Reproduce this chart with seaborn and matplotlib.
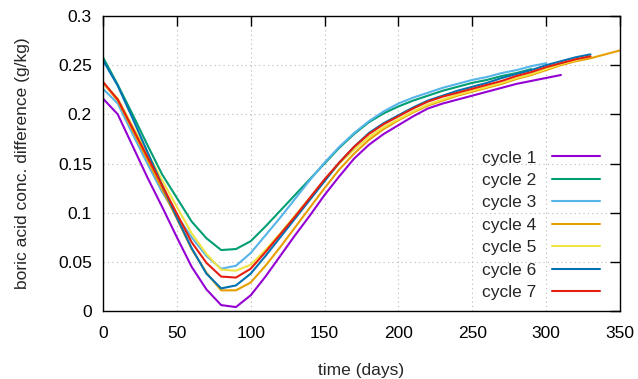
import matplotlib
matplotlib.use("Agg")
import matplotlib.pyplot as plt
import seaborn as sns
import pandas as pd
import numpy as np

# ---- data ----
days = [0, 10, 20, 30, 40, 50, 60, 70, 80, 90, 100, 110, 120, 130, 140, 150, 160, 170,
        180, 190, 200, 210, 220, 230, 240, 250, 260, 270, 280, 290, 300, 310, 320, 330, 340, 350]

cycle1 = [0.216, 0.200, 0.168, 0.136, 0.106, 0.075, 0.045, 0.022, 0.006, 0.004, 0.016, 0.035,
          0.056, 0.077, 0.097, 0.118, 0.137, 0.155, 0.169, 0.180, 0.189, 0.198, 0.206, 0.211,
          0.215, 0.219, 0.223, 0.227, 0.231, 0.234, 0.237, 0.240]
cycle2 = [0.258, 0.230, 0.200, 0.169, 0.139, 0.115, 0.091, 0.074, 0.062, 0.063, 0.071, 0.086,
          0.102, 0.118, 0.134, 0.150, 0.166, 0.180, 0.192, 0.201, 0.208, 0.214, 0.219, 0.224,
          0.228, 0.232, 0.235, 0.239, 0.242, 0.246]
cycle3 = [0.226, 0.211, 0.180, 0.150, 0.121, 0.097, 0.075, 0.056, 0.043, 0.046, 0.059, 0.077,
          0.095, 0.114, 0.133, 0.151, 0.167, 0.181, 0.193, 0.203, 0.211, 0.217, 0.222, 0.227,
          0.231, 0.235, 0.238, 0.242, 0.245, 0.249, 0.252]
cycle4 = [0.232, 0.214, 0.184, 0.154, 0.124, 0.094, 0.063, 0.039, 0.021, 0.021, 0.029, 0.046,
          0.065, 0.085, 0.105, 0.125, 0.144, 0.160, 0.174, 0.185, 0.194, 0.202, 0.209, 0.214,
          0.219, 0.223, 0.227, 0.231, 0.236, 0.240, 0.245, 0.250, 0.254, 0.257, 0.261, 0.265]
cycle5 = [0.232, 0.216, 0.188, 0.161, 0.133, 0.106, 0.079, 0.058, 0.042, 0.041, 0.047, 0.062,
          0.079, 0.097, 0.115, 0.133, 0.150, 0.164, 0.177, 0.187, 0.195, 0.203, 0.210, 0.215,
          0.220, 0.224, 0.228, 0.232, 0.237, 0.241, 0.246, 0.251, 0.255, 0.259]
cycle6 = [0.255, 0.229, 0.196, 0.162, 0.128, 0.095, 0.064, 0.038, 0.023, 0.026, 0.038, 0.056,
          0.075, 0.094, 0.113, 0.132, 0.151, 0.167, 0.181, 0.191, 0.199, 0.207, 0.214, 0.219,
          0.224, 0.228, 0.232, 0.237, 0.241, 0.245, 0.250, 0.254, 0.258, 0.261]
cycle7 = [0.233, 0.215, 0.186, 0.157, 0.128, 0.099, 0.070, 0.049, 0.035, 0.034, 0.043, 0.060,
          0.078, 0.096, 0.115, 0.134, 0.151, 0.167, 0.180, 0.190, 0.198, 0.206, 0.213, 0.218,
          0.222, 0.226, 0.230, 0.234, 0.239, 0.243, 0.248, 0.252, 0.256, 0.259]

labels = ["cycle 1", "cycle 2", "cycle 3", "cycle 4", "cycle 5", "cycle 6", "cycle 7"]
colors = ["#9400d3", "#009e73", "#56b4e9", "#e69f00", "#f0e442", "#0072b2", "#e51e10"]
series = [cycle1, cycle2, cycle3, cycle4, cycle5, cycle6, cycle7]

xticks = [0, 50, 100, 150, 200, 250, 300, 350]
yticks = [0, 0.05, 0.1, 0.15, 0.2, 0.25, 0.3]
ytick_labels = ["0", "0.05", "0.1", "0.15", "0.2", "0.25", "0.3"]

rows = []
for lab, vals in zip(labels, series):
    for d, v in zip(days, vals):
        rows.append({"time": d, "value": v, "cycle": lab})
df = pd.DataFrame(rows)

# ---- plot ----
sns.set_style("white")
plt.rcParams["font.family"] = ["Liberation Sans", "DejaVu Sans"]
FS = 12.5
plt.rcParams["font.size"] = FS

fig = plt.figure(figsize=(6.38, 3.79), dpi=100)
ax = fig.add_axes([103 / 638, 1 - 311 / 379, 517 / 638, 295 / 379])

sns.lineplot(data=df, x="time", y="value", hue="cycle", hue_order=labels,
             palette=dict(zip(labels, colors)), linewidth=1.5, ax=ax, sort=True,
             estimator=None)

ax.set_xlim(0, 350)
ax.set_ylim(0, 0.3)
ax.set_xticks(xticks)
ax.set_xticklabels([str(t) for t in xticks])
ax.set_yticks(yticks)
ax.set_yticklabels(ytick_labels)
ax.tick_params(direction="in", length=7, width=1, top=True, right=True,
               labelsize=FS, colors="black")
ax.tick_params(axis="x", pad=11)
ax.tick_params(axis="y", pad=8)
ax.grid(True, color="#b8b8b8", linestyle=(0, (1, 3)), linewidth=0.8)
for s in ax.spines.values():
    s.set_color("black")
    s.set_linewidth(1.0)

ax.set_xlabel("time (days)", fontsize=FS, labelpad=16)
ax.set_ylabel("boric acid conc. difference (g/kg)", fontsize=FS, labelpad=20)

leg = ax.legend(loc="upper right", bbox_to_anchor=(0.975, 0.568), frameon=False,
                markerfirst=False, handlelength=2.8, handletextpad=0.9,
                labelspacing=0.42, fontsize=FS, borderaxespad=0)
leg.set_zorder(5)

fig.savefig("out.png", dpi=100)
